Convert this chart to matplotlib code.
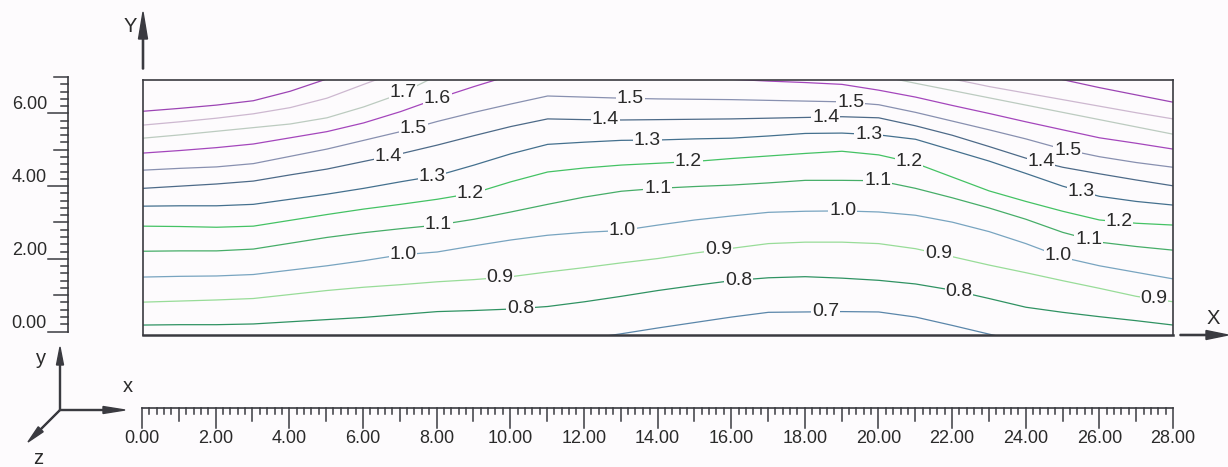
import numpy as np
import matplotlib.pyplot as plt

W, H = 1228, 467
BG = '#fdfbfd'
INK = '#3a3a40'
TXT = '#2a2a2a'

# stations along the section (m), one every metre
x_st = np.arange(0, 29)
nan = np.nan

# elevation (m) of each isoline at the stations; nan where it runs outside the section
lv_07 = [nan] * 12 + [-0.13, 0.02, 0.18, 0.33, 0.48, 0.61, 0.62, 0.63, 0.62,
                      0.48, 0.25, 0.01, -0.22] + [nan] * 4
lv_08 = [0.26, 0.27, 0.27, 0.29, 0.35, 0.41, 0.47, 0.55, 0.63, 0.66, 0.70,
         0.77, 0.90, 1.05, 1.21, 1.35, 1.48, 1.56, 1.59, 1.55, 1.49, 1.39,
         1.22, 0.99, 0.75, 0.61, 0.49, 0.38, 0.26]
lv_09 = [0.89, 0.92, 0.95, 0.99, 1.10, 1.21, 1.30, 1.37, 1.45, 1.51, 1.59,
         1.72, 1.84, 1.97, 2.09, 2.24, 2.37, 2.50, 2.54, 2.54, 2.50, 2.36,
         2.14, 1.91, 1.70, 1.48, 1.27, 1.05, 0.90]
lv_10 = [1.58, 1.60, 1.61, 1.65, 1.77, 1.89, 2.03, 2.19, 2.27, 2.44, 2.60,
         2.73, 2.81, 2.86, 3.01, 3.15, 3.26, 3.36, 3.39, 3.40, 3.37, 3.28,
         3.09, 2.83, 2.50, 2.12, 1.89, 1.71, 1.53]
lv_11 = [2.29, 2.30, 2.30, 2.35, 2.51, 2.67, 2.80, 2.91, 3.01, 3.17, 3.37,
         3.58, 3.78, 3.94, 4.02, 4.07, 4.11, 4.17, 4.24, 4.24, 4.23, 4.02,
         3.76, 3.48, 3.17, 2.81, 2.54, 2.42, 2.32]
lv_12 = [2.98, 2.97, 2.95, 2.98, 3.14, 3.30, 3.45, 3.58, 3.72, 3.89, 4.20,
         4.47, 4.58, 4.66, 4.71, 4.76, 4.84, 4.91, 4.98, 5.04, 4.94, 4.71,
         4.33, 3.95, 3.66, 3.39, 3.15, 3.06, 3.01]
lv_13 = [3.53, 3.54, 3.54, 3.58, 3.72, 3.86, 4.02, 4.20, 4.37, 4.66, 4.97,
         5.23, 5.29, 5.34, 5.35, 5.38, 5.40, 5.46, 5.53, 5.54, 5.49, 5.37,
         5.07, 4.77, 4.43, 4.08, 3.80, 3.66, 3.56]
lv_14 = [4.02, 4.08, 4.14, 4.22, 4.39, 4.55, 4.76, 4.97, 5.21, 5.47, 5.72,
         5.93, 5.91, 5.90, 5.91, 5.92, 5.93, 5.95, 5.97, 5.99, 5.96, 5.74,
         5.48, 5.17, 4.85, 4.60, 4.42, 4.25, 4.09]
lv_15 = [4.52, 4.57, 4.61, 4.70, 4.90, 5.10, 5.34, 5.58, 5.86, 6.11, 6.34,
         6.56, 6.53, 6.50, 6.48, 6.47, 6.46, 6.44, 6.42, 6.40, 6.32, 6.11,
         5.87, 5.63, 5.38, 5.10, 4.89, 4.73, 4.60]
lv_16 = [4.99, 5.06, 5.14, 5.24, 5.41, 5.58, 5.82, 6.13, 6.49, 6.82, 7.13,
         nan, nan, nan, nan, nan, 7.02, 6.97, 6.93, 6.88, 6.72, 6.53,
         6.30, 6.08, 5.85, 5.63, 5.41, 5.26, 5.10]
lv_17 = [5.40, 5.49, 5.59, 5.69, 5.79, 5.96, 6.26, 6.62, 7.12] + [nan] * 11 + \
        [7.12, 6.91, 6.71, 6.51, 6.31, 6.11, 5.91, 5.71, 5.51]
lv_18 = [5.76, 5.85, 5.95, 6.07, 6.24, 6.50, 6.88, 7.25] + [nan] * 14 + \
        [7.03, 6.82, 6.64, 6.46, 6.28, 6.10, 5.93]
lv_19 = [6.14, 6.22, 6.31, 6.43, 6.69, 7.03] + [nan] * 19 + \
        [7.01, 6.79, 6.59, 6.39]

levels = [0.7, 0.8, 0.9, 1.0, 1.1, 1.2, 1.3, 1.4, 1.5, 1.6, 1.7, 1.8, 1.9]
level_rows = [lv_07, lv_08, lv_09, lv_10, lv_11, lv_12, lv_13,
              lv_14, lv_15, lv_16, lv_17, lv_18, lv_19]
level_colors = ['#5a86aa', '#2f9262', '#98dc98', '#78a4c0', '#46ad68',
                '#44c264', '#44708e', '#4d6a88', '#8890b0', '#a446bc',
                '#bccbc0', '#cdb8d0', '#9c44b4']

# where along the section each value is written
label_at = [(1.7, 7.07), (1.6, 8.0), (1.5, 7.35), (1.4, 6.67), (1.3, 7.86),
            (1.2, 8.9), (1.1, 8.03), (1.0, 7.07), (0.9, 9.71), (0.8, 10.26),
            (1.5, 13.25), (1.4, 12.57), (1.3, 13.71), (1.2, 14.83),
            (1.1, 13.99), (1.0, 13.03), (0.9, 15.65), (0.8, 16.19),
            (0.7, 18.56), (1.5, 19.24), (1.4, 18.56), (1.3, 19.73),
            (1.2, 20.82), (1.1, 19.97), (1.0, 19.02), (0.9, 21.63),
            (0.8, 22.18), (1.5, 25.14), (1.4, 24.41), (1.3, 25.50),
            (1.2, 26.53), (1.1, 25.71), (1.0, 24.87), (0.9, 27.48)]

plt.rcParams['font.family'] = ['Liberation Sans', 'DejaVu Sans']

fig = plt.figure(figsize=(W / 100, H / 100), dpi=100)
fig.patch.set_facecolor(BG)


def px_axes(x0, top, w, h):
    return fig.add_axes([x0 / W, 1 - (top + h) / H, w / W, h / H])


# full-figure layer in pixel units for arrows and the triad
deco = fig.add_axes([0, 0, 1, 1], zorder=0)
deco.set_xlim(0, W)
deco.set_ylim(H, 0)
deco.axis('off')

# section with isolines
ax = px_axes(143, 80, 1030, 254.5)
ax.set_zorder(2)
ax.set_facecolor('none')
ax.set_xlim(0, 28)
ax.set_ylim(0, 7)
ax.set_xticks([])
ax.set_yticks([])
for name, sp in ax.spines.items():
    sp.set_color(INK)
    sp.set_linewidth(1.8 if name == 'bottom' else 1.2)

for lev, row, col in zip(levels, level_rows, level_colors):
    ax.plot(x_st, row, color=col, lw=0.9)

for lev, xl in label_at:
    row = np.array(level_rows[levels.index(lev)])
    ok = ~np.isnan(row)
    yl = np.interp(xl, x_st[ok], row[ok])
    ax.text(xl, yl, f'{lev:.1f}', ha='center', va='center', fontsize=14,
            color=TXT, zorder=5,
            bbox=dict(boxstyle='square,pad=0.04', fc=BG, ec='none'))

# vertical ruler
ppu = 254.5 / 7
rl = px_axes(10, 77, 58, 254.5)
rl.set_xlim(-58, 0)
rl.set_ylim(0, 7)
rl.axis('off')
rl.plot([0, 0], [0, 7], color=INK, lw=1.2, clip_on=False)
for v in np.round(np.arange(0, 7.01, 0.2), 1):
    if abs(v - round(v)) < 1e-6:
        ln = 20 if int(round(v)) % 2 == 0 else 14
    else:
        ln = 7
    rl.plot([-ln, 0], [v, v], color=INK, lw=1.1, clip_on=False)
for v in [0, 2, 4, 6]:
    rl.text(-21, v + 4 / ppu, f'{v:.2f}', ha='right', va='baseline',
            fontsize=13, color=TXT)

# horizontal ruler
rb = px_axes(142, 407.5, 1031, 45)
rb.set_xlim(0, 28)
rb.set_ylim(45, 0)
rb.axis('off')
rb.plot([0, 28], [0, 0], color=INK, lw=1.2, clip_on=False)
for v in np.round(np.arange(0, 28.01, 0.2), 1):
    if abs(v - round(v)) < 1e-6:
        ln = 20 if int(round(v)) % 2 == 0 else 13
    else:
        ln = 6
    rb.plot([v, v], [0, ln], color=INK, lw=1.1, clip_on=False)
for v in range(0, 29, 2):
    rb.text(v, 31, f'{v:.2f}', ha='center', va='center',
            fontsize=13, color=TXT)

# axis arrows
deco.arrow(143, 69, 0, -57, width=1.2, head_width=9, head_length=27,
           length_includes_head=True, fc=INK, ec=INK)
deco.text(130, 26, 'Y', ha='center', va='center', fontsize=14.5, color=TXT)
deco.arrow(1180, 335, 48, 0, width=1.2, head_width=9, head_length=22,
           length_includes_head=True, fc=INK, ec=INK)
deco.text(1213, 318, 'X', ha='center', va='center', fontsize=14.5, color=TXT)

# coordinate triad
ox, oy = 60, 410
deco.arrow(ox, oy, 0, -63, width=1.0, head_width=7, head_length=18,
           length_includes_head=True, fc=INK, ec=INK)
deco.arrow(ox, oy, 65, 0, width=1.0, head_width=7, head_length=22,
           length_includes_head=True, fc=INK, ec=INK)
deco.arrow(ox, oy, -32, 32, width=1.0, head_width=7, head_length=18,
           length_includes_head=True, fc=INK, ec=INK)
deco.text(41, 359, 'y', ha='center', va='center', fontsize=14.5, color=TXT)
deco.text(128, 386, 'x', ha='center', va='center', fontsize=14.5, color=TXT)
deco.text(38, 458, 'z', ha='center', va='center', fontsize=14.5, color=TXT)

fig.savefig('out.png', dpi=100, facecolor=BG)
